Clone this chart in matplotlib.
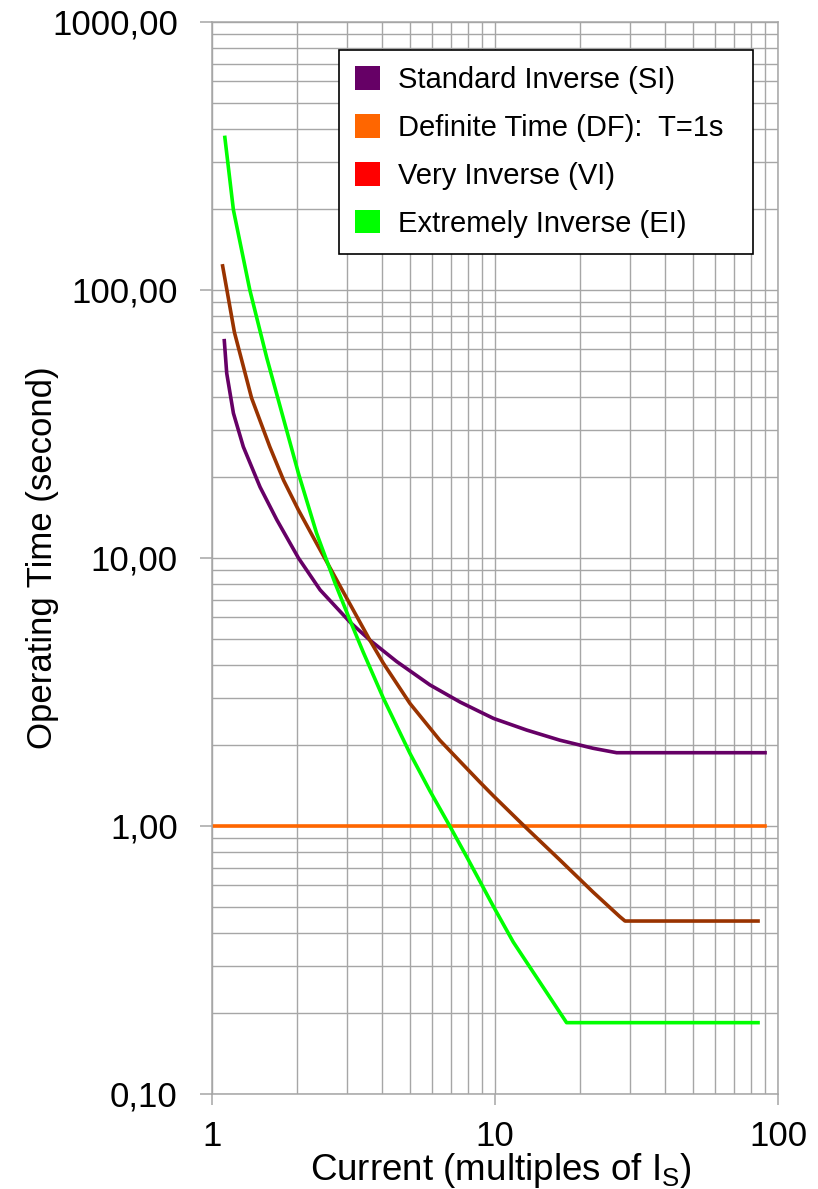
import matplotlib
matplotlib.use("Agg")
import matplotlib.pyplot as plt
from matplotlib.patches import Patch
from matplotlib.ticker import LogLocator, NullFormatter

plt.rcParams['font.family'] = ['Liberation Sans', 'DejaVu Sans']
plt.rcParams['mathtext.fontset'] = 'custom'
plt.rcParams['mathtext.rm'] = 'Liberation Sans'
plt.rcParams['mathtext.it'] = 'Liberation Sans:italic'

# valores (corrente em multiplos de Is, tempo em segundos)
si_x = [1.105, 1.127, 1.19, 1.29, 1.478, 1.693, 2.02, 2.41, 3.07, 3.61,
        4.49, 5.89, 7.53, 8.83, 9.88, 12.94, 16.95, 22.2, 26.9, 90]
si_t = [64.7, 48.9, 34.7, 26.0, 18.4, 13.9, 10.0, 7.6, 5.77, 4.94,
        4.11, 3.36, 2.90, 2.67, 2.52, 2.28, 2.09, 1.95, 1.877, 1.877]

dt_x = [1.02, 90]
dt_t = [1.0, 1.0]

vi_x = [1.09, 1.20, 1.38, 1.60, 1.79, 2.02, 2.34, 2.72, 3.61, 4.03, 5.0,
        6.38, 7.53, 8.83, 9.88, 12.56, 16.95, 22.2, 27.6, 28.8, 85]
vi_t = [123, 69.5, 39.5, 26, 19.5, 15.1, 11.35, 8.5, 4.94, 4.05, 2.87,
        2.09, 1.74, 1.46, 1.294, 1.01, 0.747, 0.567, 0.459, 0.442, 0.442]

ei_x = [1.11, 1.19, 1.36, 1.56, 2.02, 2.34, 2.72, 3.07, 3.42, 4.03, 5.0,
        5.89, 6.94, 7.94, 9.88, 11.6, 15.6, 17.9, 85]
ei_t = [371, 199, 100, 56, 20.7, 12.4, 8.07, 5.87, 4.46, 3.00, 1.87,
        1.351, 0.994, 0.768, 0.50, 0.369, 0.230, 0.1846, 0.1846]

x_ticks = [1, 10, 100]
x_labels = ['1', '10', '100']
y_ticks = [0.1, 1, 10, 100, 1000]
y_labels = ['0,10', '1,00', '10,00', '100,00', '1000,00']

legend_labels = ['Standard Inverse (SI)', 'Definite Time (DF):  T=1s',
                 'Very Inverse (VI)', 'Extremely Inverse (EI)']
legend_cores = ['#660066', '#ff6600', '#ff0000', '#00ff00']

cinza = '#a6a6a6'

fig = plt.figure(figsize=(8.18, 11.89), dpi=100, facecolor='white')
ax = fig.add_axes([0.2592, 0.0799, 0.6919, 0.9016])

ax.plot(si_x, si_t, color='#660066', lw=2.6)
ax.plot(dt_x, dt_t, color='#ff6600', lw=2.6)
ax.plot(vi_x, vi_t, color='#993300', lw=2.6)
ax.plot(ei_x, ei_t, color='#00ff00', lw=2.6)

ax.set_xscale('log')
ax.set_yscale('log')
ax.set_xlim(1, 100)
ax.set_ylim(0.1, 1000)

ax.set_xticks(x_ticks)
ax.set_xticklabels(x_labels)
ax.set_yticks(y_ticks)
ax.set_yticklabels(y_labels)
ax.xaxis.set_minor_locator(LogLocator(base=10, subs=range(2, 10)))
ax.yaxis.set_minor_locator(LogLocator(base=10, subs=range(2, 10)))
ax.xaxis.set_minor_formatter(NullFormatter())
ax.yaxis.set_minor_formatter(NullFormatter())

ax.grid(which='both', color=cinza, lw=1.0)
ax.set_axisbelow(True)

ax.tick_params(which='minor', length=0)
ax.tick_params(axis='y', which='major', length=8.6, width=1.1, color=cinza,
               labelsize=25, pad=16, labelcolor='black')
ax.tick_params(axis='x', which='major', length=8, width=1.1, color=cinza,
               labelsize=25, pad=11, labelcolor='black')

for s in ax.spines.values():
    s.set_color(cinza)
    s.set_linewidth(1.1)

ax.set_xlabel(r'Current (multiples of I$_{\mathrm{S}}$)', fontsize=26.5)
ax.xaxis.set_label_coords(0.51, -0.053)
ax.set_ylabel('Operating Time (second)', fontsize=25)
ax.yaxis.set_label_coords(-0.27, 0.5)

handles = [Patch(facecolor=c, edgecolor='none') for c in legend_cores]
leg = ax.legend(handles, legend_labels, loc='upper left',
                bbox_to_anchor=(0.2244, 0.774, 0.7314, 0.2), mode='expand',
                borderaxespad=0, fontsize=21, handlelength=0.86,
                handleheight=0.86, handletextpad=0.6, labelspacing=0.685,
                borderpad=0.55, fancybox=False, framealpha=1,
                edgecolor='black')
leg.get_frame().set_linewidth(1.2)

fig.savefig('out.png', dpi=100)
